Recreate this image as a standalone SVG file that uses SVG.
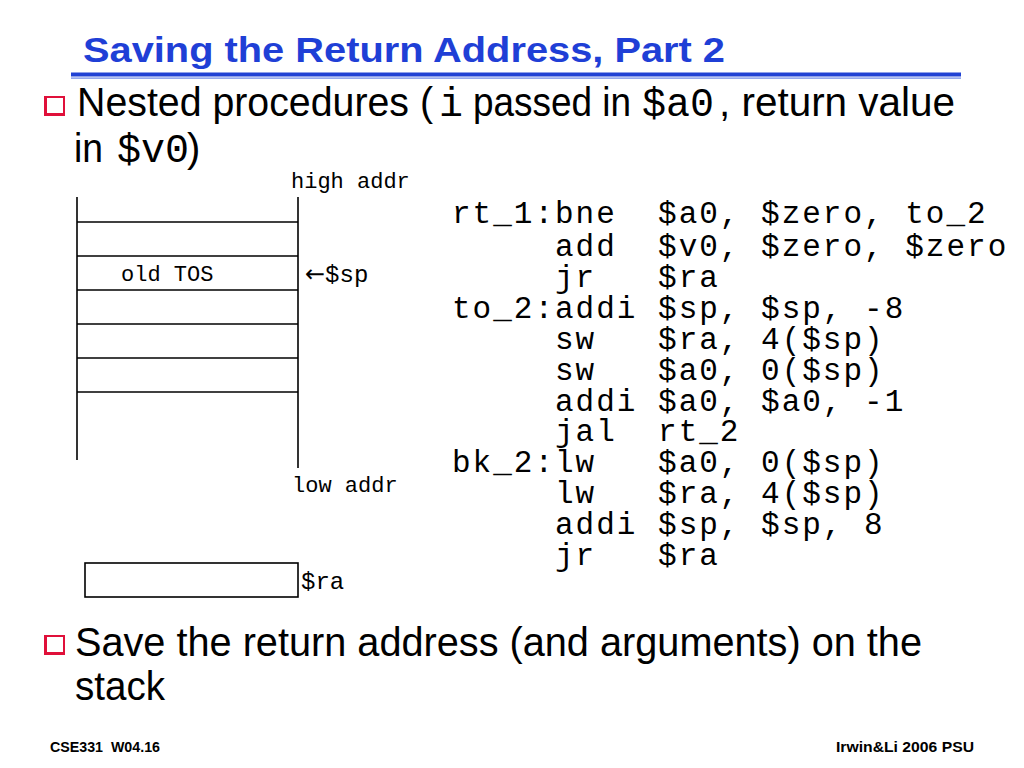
<svg xmlns="http://www.w3.org/2000/svg" width="1024" height="768" viewBox="0 0 1024 768">
<style>
.title{font-family:"Liberation Sans",Arial,sans-serif;font-weight:bold;font-size:35px;fill:#1f3fd6}
.body{font-family:"Liberation Sans",Arial,sans-serif;font-size:40px;fill:#000}
.bmono{font-family:"Liberation Mono","Courier New",monospace;font-size:40px;fill:#000}
.code{font-family:"Liberation Mono","Courier New",monospace;font-size:31px;letter-spacing:2px;fill:#000;white-space:pre}
.lbl{font-family:"Liberation Mono","Courier New",monospace;font-size:22px;fill:#000}
.lbl2{font-family:"Liberation Mono","Courier New",monospace;font-size:24px;fill:#000}
.arr{font-family:"DejaVu Sans",sans-serif;font-size:24px;fill:#000}
.foot{font-family:"Liberation Sans",Arial,sans-serif;font-weight:bold;font-size:14px;fill:#000}
.ln{stroke:#000;stroke-width:1.6;fill:none}
</style>
<defs>
<g id="bullet">
<rect x="0" y="0" width="21" height="20" fill="#e0103a"/>
<rect x="3" y="2" width="16" height="15" fill="#fff"/>
</g>
</defs>
<rect width="1024" height="768" fill="#fff"/>
<g id="title">
<text class="title" x="83" y="62" textLength="642" lengthAdjust="spacingAndGlyphs">Saving the Return Address, Part 2</text>
<rect x="71" y="72.5" width="890" height="4" fill="#2042d4"/>
<rect x="71" y="77.5" width="890" height="1.2" fill="#6a86e6"/>
</g>
<g id="bullet1">
<use href="#bullet" x="44" y="96"/>
<text class="body" x="77" y="116" textLength="356" lengthAdjust="spacingAndGlyphs">Nested procedures (</text>
<text class="bmono" x="439" y="116">i</text>
<text class="body" x="473" y="116" textLength="158" lengthAdjust="spacingAndGlyphs">passed in</text>
<text class="bmono" x="642" y="116">$a0</text>
<text class="body" x="719" y="116" textLength="236" lengthAdjust="spacingAndGlyphs">, return value</text>
<text class="body" x="74" y="162" textLength="29" lengthAdjust="spacingAndGlyphs">in</text>
<text class="bmono" x="117" y="162">$v0</text>
<text class="body" x="187" y="162">)</text>
</g>
<g id="stack">
<line class="ln" x1="77" y1="197" x2="77" y2="460"/>
<line class="ln" x1="298" y1="197" x2="298" y2="468"/>
<line class="ln" x1="77" y1="222" x2="298" y2="222"/>
<line class="ln" x1="77" y1="256" x2="298" y2="256"/>
<line class="ln" x1="77" y1="290" x2="298" y2="290"/>
<line class="ln" x1="77" y1="324" x2="298" y2="324"/>
<line class="ln" x1="77" y1="358" x2="298" y2="358"/>
<line class="ln" x1="77" y1="392" x2="298" y2="392"/>
<text class="lbl" x="291" y="188">high addr</text>
<text class="lbl" x="121" y="281">old TOS</text>
<text x="305" y="282"><tspan class="arr">←</tspan><tspan class="lbl2">$sp</tspan></text>
<text class="lbl" x="292" y="492">low addr</text>
</g>
<g id="ra">
<rect class="ln" x="85" y="563" width="213" height="34"/>
<text class="lbl2" x="301" y="589">$ra</text>
</g>
<g id="code">
<text class="code" x="452" y="223" xml:space="preserve">rt_1:bne  $a0, $zero, to_2</text>
<text class="code" x="452" y="256" xml:space="preserve">     add  $v0, $zero, $zero</text>
<text class="code" x="452" y="287" xml:space="preserve">     jr   $ra</text>
<text class="code" x="452" y="318" xml:space="preserve">to_2:addi $sp, $sp, -8</text>
<text class="code" x="452" y="349" xml:space="preserve">     sw   $ra, 4($sp)</text>
<text class="code" x="452" y="380" xml:space="preserve">     sw   $a0, 0($sp)</text>
<text class="code" x="452" y="411" xml:space="preserve">     addi $a0, $a0, -1</text>
<text class="code" x="452" y="441" xml:space="preserve">     jal  rt_2</text>
<text class="code" x="452" y="472" xml:space="preserve">bk_2:lw   $a0, 0($sp)</text>
<text class="code" x="452" y="503" xml:space="preserve">     lw   $ra, 4($sp)</text>
<text class="code" x="452" y="534" xml:space="preserve">     addi $sp, $sp, 8</text>
<text class="code" x="452" y="565" xml:space="preserve">     jr   $ra</text>
</g>
<g id="bullet2">
<use href="#bullet" x="44" y="635"/>
<text class="body" x="75" y="656" textLength="847" lengthAdjust="spacingAndGlyphs">Save the return address (and arguments) on the</text>
<text class="body" x="75" y="700" textLength="90" lengthAdjust="spacingAndGlyphs">stack</text>
</g>
<g id="footer">
<text class="foot" x="50" y="752" textLength="110" lengthAdjust="spacingAndGlyphs" xml:space="preserve">CSE331  W04.16</text>
<text class="foot" x="836" y="752" textLength="138" lengthAdjust="spacingAndGlyphs">Irwin&amp;Li 2006 PSU</text>
</g>
</svg>
